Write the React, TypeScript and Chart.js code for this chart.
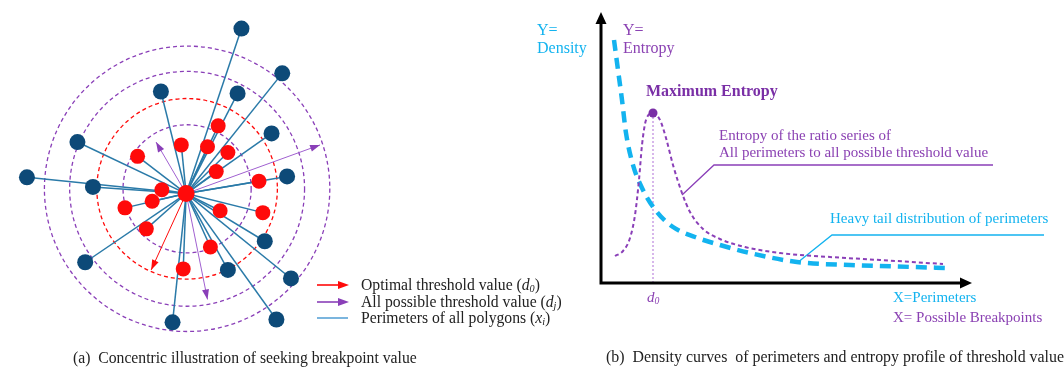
import React, { useEffect, useRef } from "react";
import { Chart, registerables } from "chart.js";
Chart.register(...registerables);

// ---------- Left panel: concentric illustration (units relative to the hub) ----------
const hubPoint = { x: 0, y: 0 };
const polygonNodesX = [57, 99, -26, 53, -112, 88, -164, -96, 104, -104, 81, 43, 108, -14, 93];
const polygonNodesY = [173, 126, 107, 105, 54, 63, 17, 7, 18, -72, -50, -80, -89, -135, -132];
const innerNodesX = [33, -5, 22, -50, 43, 31, 75, -25, -35, -63, 35, 79, -41, 25, -3];
const innerNodesY = [71, 51, 49, 39, 43, 23, 13, 4, -8, -15, -18, -20, -37, -56, -79];
const ringRadii = [66, 93, 121, 147];
const ringIsOptimal = [false, true, false, false];
const ringCenter = { x: 1, y: 5 };
const optimalTipX = [-36];
const optimalTipY = [-80];
const possibleTipX = [-31, 138, 22];
const possibleTipY = [54, 51, -111];

// ---------- Right panel: density & entropy curves ----------
const perimeterX = [13, 17, 21, 25, 32, 42, 56, 72, 94, 119, 149, 196, 249, 312, 346];
const densityY = [243, 213, 183, 150, 118, 93, 71, 56, 46, 38, 30, 21, 18, 16, 15];
const breakpointX = [14, 22, 29, 34, 38, 41, 45, 52, 59, 65, 72, 81, 89, 102, 119, 144, 179, 229, 279, 342];
const entropyY = [27, 32, 45, 68, 103, 138, 163, 170, 163, 145, 118, 90, 71, 54, 44, 36, 30, 26, 23, 19];
const maxEntropy = { x: 52, y: 170 };
const entropyLeaderX = [81, 113, 392];
const entropyLeaderY = [88, 118, 118];
const densityLeaderX = [196, 231, 443];
const densityLeaderY = [20, 48, 48];

const NAVY = "#0d4a78";
const RED = "#ff0a0a";
const SPOKE = "#2a7aa8";
const PURPLE = "#8a3fb8";
const PURPLE_TXT = "#8b42b3";
const PURPLE_DARK = "#7a2fa6";
const CYAN = "#13b3ef";
const SERIF = "'Liberation Serif', 'DejaVu Serif', serif";

function arrowHead(ctx: CanvasRenderingContext2D, x0: number, y0: number, x1: number, y1: number, len: number, wid: number, color: string) {
  const a = Math.atan2(y1 - y0, x1 - x0);
  ctx.save();
  ctx.translate(x1, y1);
  ctx.rotate(a);
  ctx.beginPath();
  ctx.moveTo(0, 0);
  ctx.lineTo(-len, wid / 2);
  ctx.lineTo(-len, -wid / 2);
  ctx.closePath();
  ctx.fillStyle = color;
  ctx.fill();
  ctx.restore();
}

const leftPlugin = {
  id: "leftDeco",
  beforeDatasetsDraw(chart: any) {
    const ctx = chart.ctx as CanvasRenderingContext2D;
    const xs = chart.scales.x, ys = chart.scales.y;
    const cx = xs.getPixelForValue(ringCenter.x);
    const cy = ys.getPixelForValue(ringCenter.y);
    ctx.save();
    ringRadii.forEach((r, i) => {
      const rp = xs.getPixelForValue(ringCenter.x + r) - cx;
      ctx.beginPath();
      ctx.setLineDash([4, 3]);
      ctx.lineWidth = 1.3;
      ctx.strokeStyle = ringIsOptimal[i] ? RED : PURPLE;
      ctx.arc(cx, cy, rp, 0, Math.PI * 2);
      ctx.stroke();
    });
    ctx.restore();
  },
  afterDatasetsDraw(chart: any) {
    const ctx = chart.ctx as CanvasRenderingContext2D;
    const xs = chart.scales.x, ys = chart.scales.y;
    const hx = xs.getPixelForValue(hubPoint.x), hy = ys.getPixelForValue(hubPoint.y);
    optimalTipX.forEach((tx, i) => {
      arrowHead(ctx, hx, hy, xs.getPixelForValue(tx), ys.getPixelForValue(optimalTipY[i]), 10, 7, RED);
    });
    possibleTipX.forEach((tx, i) => {
      arrowHead(ctx, hx, hy, xs.getPixelForValue(tx), ys.getPixelForValue(possibleTipY[i]), 10, 7, PURPLE);
    });
    // legend keys
    const rows = [285, 302, 318];
    const colors = [RED, PURPLE, "#5aa3d6"];
    rows.forEach((y, i) => {
      ctx.save();
      ctx.strokeStyle = colors[i];
      ctx.lineWidth = 1.6;
      ctx.beginPath();
      ctx.moveTo(317, y);
      ctx.lineTo(i < 2 ? 340 : 348, y);
      ctx.stroke();
      ctx.restore();
      if (i < 2) arrowHead(ctx, 317, y, 349, y, 11, 8, colors[i]);
    });
  },
};

const rightPlugin = {
  id: "rightDeco",
  beforeDatasetsDraw(chart: any) {
    const ctx = chart.ctx as CanvasRenderingContext2D;
    const xs = chart.scales.x, ys = chart.scales.y;
    const px = xs.getPixelForValue(maxEntropy.x);
    ctx.save();
    ctx.strokeStyle = "#b070d8";
    ctx.lineWidth = 1;
    ctx.setLineDash([2, 2]);
    ctx.beginPath();
    ctx.moveTo(px, ys.getPixelForValue(maxEntropy.y));
    ctx.lineTo(px, ys.getPixelForValue(0));
    ctx.stroke();
    ctx.setLineDash([]);
    // leaders
    ctx.lineWidth = 1.3;
    ctx.strokeStyle = PURPLE;
    ctx.beginPath();
    entropyLeaderX.forEach((x, i) => {
      const X = xs.getPixelForValue(x), Y = ys.getPixelForValue(entropyLeaderY[i]);
      i ? ctx.lineTo(X, Y) : ctx.moveTo(X, Y);
    });
    ctx.stroke();
    ctx.strokeStyle = CYAN;
    ctx.beginPath();
    densityLeaderX.forEach((x, i) => {
      const X = xs.getPixelForValue(x), Y = ys.getPixelForValue(densityLeaderY[i]);
      i ? ctx.lineTo(X, Y) : ctx.moveTo(X, Y);
    });
    ctx.stroke();
    ctx.restore();
  },
  afterDraw(chart: any) {
    const ctx = chart.ctx as CanvasRenderingContext2D;
    const a = chart.chartArea;
    ctx.save();
    ctx.strokeStyle = "#000";
    ctx.lineWidth = 3;
    ctx.beginPath();
    ctx.moveTo(a.left, a.top + 8);
    ctx.lineTo(a.left, a.bottom);
    ctx.lineTo(a.right - 8, a.bottom);
    ctx.stroke();
    ctx.restore();
    arrowHead(ctx, a.left, a.bottom, a.left, a.top, 12, 11, "#000");
    arrowHead(ctx, a.left, a.bottom, a.right, a.bottom, 12, 11, "#000");
  },
};

function LeftChart() {
  const ref = useRef<HTMLCanvasElement>(null);
  useEffect(() => {
    const spokes: any[] = [];
    const allX = [...polygonNodesX, ...innerNodesX];
    const allY = [...polygonNodesY, ...innerNodesY];
    allX.forEach((x, i) => {
      spokes.push({
        type: "line",
        data: [hubPoint, { x, y: allY[i] }],
        borderColor: SPOKE,
        borderWidth: 1.5,
        pointRadius: 0,
        showLine: true,
        order: 3,
      });
    });
    const arrows: any[] = [];
    optimalTipX.forEach((x, i) => arrows.push({ type: "line", data: [hubPoint, { x, y: optimalTipY[i] }], borderColor: RED, borderWidth: 1, pointRadius: 0, showLine: true, order: 2 }));
    possibleTipX.forEach((x, i) => arrows.push({ type: "line", data: [hubPoint, { x, y: possibleTipY[i] }], borderColor: "#a060d0", borderWidth: 1, pointRadius: 0, showLine: true, order: 2 }));
    const chart = new Chart(ref.current!, {
      type: "scatter",
      data: {
        datasets: [
          { data: [hubPoint], backgroundColor: RED, borderWidth: 0, pointRadius: 8.5, order: 0 } as any,
          { data: polygonNodesX.map((x, i) => ({ x, y: polygonNodesY[i] })), backgroundColor: NAVY, borderWidth: 0, pointRadius: 8, order: 1 },
          { data: innerNodesX.map((x, i) => ({ x, y: innerNodesY[i] })), backgroundColor: RED, borderWidth: 0, pointRadius: 7.5, order: 1 },
          ...arrows,
          ...spokes,
        ],
      },
      options: {
        responsive: false,
        animation: false,
        events: [],
        layout: { padding: 0 },
        plugins: { legend: { display: false }, tooltip: { enabled: false } },
        scales: {
          x: { type: "linear", display: false, min: -183, max: 397 },
          y: { type: "linear", display: false, min: -175, max: 194 },
        },
      },
      plugins: [leftPlugin],
    });
    return () => chart.destroy();
  }, []);
  return <canvas ref={ref} width={580} height={369} style={{ position: "absolute", left: 0, top: 0, width: 580, height: 369 }} />;
}

function RightChart() {
  const ref = useRef<HTMLCanvasElement>(null);
  useEffect(() => {
    const chart = new Chart(ref.current!, {
      type: "line",
      data: {
        datasets: [
          {
            data: [maxEntropy],
            backgroundColor: PURPLE_DARK,
            pointRadius: 4.5,
            borderWidth: 0,
            showLine: false,
            order: 0,
          } as any,
          {
            data: breakpointX.map((x, i) => ({ x, y: entropyY[i] })),
            borderColor: PURPLE,
            borderWidth: 2,
            borderDash: [4, 3],
            pointRadius: 0,
            cubicInterpolationMode: "monotone",
            order: 1,
          },
          {
            data: perimeterX.map((x, i) => ({ x, y: densityY[i] })),
            borderColor: CYAN,
            borderWidth: 4.5,
            borderDash: [11, 7],
            pointRadius: 0,
            cubicInterpolationMode: "monotone",
            order: 2,
          },
        ],
      },
      options: {
        responsive: false,
        animation: false,
        events: [],
        layout: { padding: { left: 21, top: 12, right: 92, bottom: 86 } },
        plugins: { legend: { display: false }, tooltip: { enabled: false } },
        scales: {
          x: { type: "linear", display: false, min: 0, max: 371 },
          y: { type: "linear", display: false, min: 0, max: 271 },
        },
      },
      plugins: [rightPlugin],
    });
    return () => chart.destroy();
  }, []);
  return <canvas ref={ref} width={484} height={369} style={{ position: "absolute", left: 580, top: 0, width: 484, height: 369 }} />;
}

function Label(props: { x: number; y: number; size: number; color: string; bold?: boolean; children: any }) {
  const lh = props.size * 1.2;
  return (
    <div
      style={{
        position: "absolute",
        left: props.x,
        top: props.y - lh / 2,
        fontSize: props.size,
        lineHeight: lh + "px",
        color: props.color,
        fontWeight: props.bold ? "bold" : "normal",
        whiteSpace: "nowrap",
        fontFamily: SERIF,
      }}
    >
      {props.children}
    </div>
  );
}

const sub = (s: string) => <sub style={{ fontSize: "0.65em", verticalAlign: "-0.2em" }}>{s}</sub>;

export default function App() {
  return (
    <div style={{ position: "fixed", left: 0, top: 0, width: 1064, height: 369, background: "#fff", overflow: "hidden" }}>
      <LeftChart />
      <RightChart />
      <Label x={361} y={285} size={15.7} color="#222">Optimal threshold value (<i>d</i><i>{sub("0")}</i>)</Label>
      <Label x={361} y={302} size={15.7} color="#222">All possible threshold value (<i>d</i><i>{sub("j")}</i>)</Label>
      <Label x={361} y={318} size={15.7} color="#222">Perimeters of all polygons (<i>x</i><i>{sub("i")}</i>)</Label>
      <Label x={73} y={358} size={15.7} color="#222">(a)&nbsp; Concentric illustration of seeking breakpoint value</Label>

      <Label x={537} y={30} size={16} color={CYAN}>Y=</Label>
      <Label x={537} y={48} size={16} color={CYAN}>Density</Label>
      <Label x={623} y={30} size={16} color={PURPLE_TXT}>Y=</Label>
      <Label x={623} y={48} size={16} color={PURPLE_TXT}>Entropy</Label>
      <Label x={646} y={91} size={16} color={PURPLE_DARK} bold>Maximum Entropy</Label>
      <Label x={719} y={135} size={15} color={PURPLE_TXT}>Entropy of the ratio series of</Label>
      <Label x={719} y={152} size={15} color={PURPLE_TXT}>All perimeters to all possible threshold value</Label>
      <Label x={830} y={218} size={15} color={CYAN}>Heavy tail distribution of perimeters</Label>
      <Label x={647} y={297} size={15} color={PURPLE_TXT}><i>d</i><i>{sub("0")}</i></Label>
      <Label x={893} y={297} size={15} color={CYAN}>X=Perimeters</Label>
      <Label x={893} y={317} size={15} color={PURPLE_TXT}>X= Possible Breakpoints</Label>
      <Label x={606} y={357} size={15.9} color="#222">(b)&nbsp; Density curves&nbsp; of perimeters and entropy profile of threshold value</Label>
    </div>
  );
}
